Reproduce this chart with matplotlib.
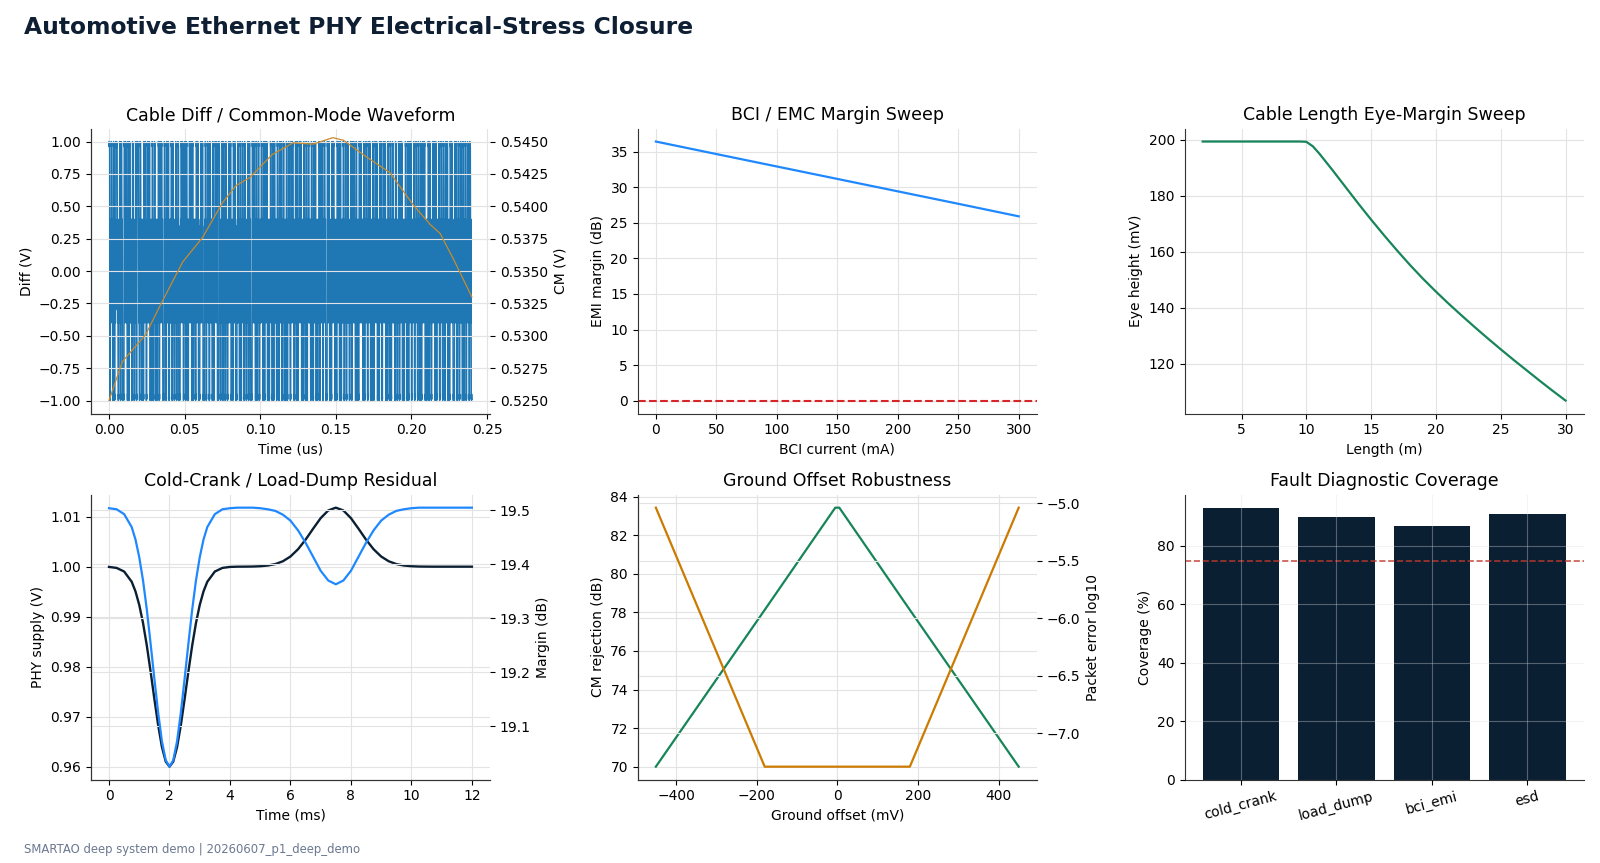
import numpy as np
import matplotlib
matplotlib.use("Agg")
import matplotlib.pyplot as plt

plt.rcParams['font.family'] = ['DejaVu Sans']
plt.rcParams['axes.grid'] = True
plt.rcParams['grid.color'] = '#e3e3e3'
plt.rcParams['grid.linewidth'] = 0.8
plt.rcParams['axes.spines.top'] = False
plt.rcParams['axes.spines.right'] = False
plt.rcParams['axes.edgecolor'] = '#333333'
plt.rcParams['xtick.labelsize'] = 10
plt.rcParams['ytick.labelsize'] = 10
plt.rcParams['axes.labelsize'] = 10
plt.rcParams['axes.titlesize'] = 12.5

NAVY = '#0b1f33'
BLUE = '#1f88ff'
GREEN = '#17855a'
ORANGE = '#cc7a00'

# --- panel 1: cable waveform, PAM3 symbols + per-level sample ripple ---
symbols = (
    "+-0+0-+-0++0-0+-+0--+0+0-+-+00-+0-0+-++0-+0-0-+0+-0+0+-0-+-"
    "0+-0-0+-+0+0--+0-+0+-00+-+0-0+-0+--0+0+-0+-+0-0+0+-+-00-+0+-"
    "-0+0+--0+-0+0-+00-+-0+0+--+0-0+-+0-+0-0+0+-0-+0+--0+0-+-0+0-"
    "+0-0+-+0--+0+0-+-0+-00+0-+-+0+-0-0+0-+-+00-+0-+0+-0+-0-+-0+0"
    "-+0+0-0+-+-0+0+-0-+0-+-0+00-+0-+0+-0-0+-+0+-0+0--+0+-0-+0+0-"
    "0-+0+-+-00+-0+-0+0-0+-+0+0-+-0-+0+00-+-0+0-+0+-0-+-0+0+-0-+0"
    "+-0+0+-0-+0-+-0+00-+0-0+-+0+-0-0+0-+-+0+-00+-0+0-+0-+-0+0+-0"
    "-0+-+0-0+0+-+-00+-0+0-+0-+0+-0-+0+0--+0+-0+-0+0-+-0+-0+0-+0-"
)
level_ripple = {
    '+': [1.0, 0.96, 0.99, 0.95],
    '0': [0.35, -0.4, 0.4, -0.3],
    '-': [-0.97, -1.0, -0.95, -0.99],
}
cm_t = [0.0, 0.0088, 0.0243, 0.0332, 0.0487, 0.0619, 0.0752, 0.084, 0.0929,
        0.108, 0.1217, 0.135, 0.148, 0.155, 0.1704, 0.1858, 0.2013, 0.2124,
        0.219, 0.2279, 0.24]
cm_v = [0.5250, 0.5280, 0.5301, 0.5322, 0.5357, 0.5376, 0.5403, 0.5416, 0.5422,
        0.5440, 0.5449, 0.5448, 0.5453, 0.5451, 0.5438, 0.5426, 0.5401, 0.5386,
        0.5379, 0.5359, 0.5330]

# --- panel 2: BCI sweep ---
bci_ma = [0, 50, 100, 150, 200, 250, 300]
emi_margin = [36.46, 34.7, 32.95, 31.2, 29.45, 27.7, 25.93]

# --- panel 3: cable length sweep ---
cable_len = [2, 4, 6, 8, 9.5, 10, 10.5, 11, 12, 13, 14, 15, 16, 17, 18, 19, 20,
             21, 22, 23, 24, 25, 26, 27, 28, 29, 30]
eye_mv = [199.3, 199.3, 199.3, 199.3, 199.3, 199.2, 197.6, 195.0, 189.2, 183.2,
          177.2, 171.4, 165.8, 160.4, 155.2, 150.3, 145.7, 141.3, 137.1, 133.0,
          129.0, 125.1, 121.3, 117.6, 113.9, 110.3, 106.8]

# --- panel 4: cold crank / load dump ---
crank_t = [0, 0.25, 0.5, 0.75, 0.875, 1.0, 1.125, 1.25, 1.375, 1.5, 1.625, 1.75,
           1.875, 2.0, 2.125, 2.25, 2.375, 2.5, 2.625, 2.75, 2.875, 3.0, 3.125,
           3.25, 3.5, 3.75, 4.0, 4.25, 4.5, 4.75, 5.0, 5.25, 5.5, 5.75, 6.0,
           6.25, 6.5, 6.75, 7.0, 7.25, 7.5, 7.75, 8.0, 8.25, 8.5, 8.75, 9.0,
           9.25, 9.5, 9.75, 10.0, 10.25, 10.5, 10.75, 11.0, 11.5, 12.0]
phy_supply = [0.99995, 0.99975, 0.99903, 0.99698, 0.99506, 0.99234, 0.98872,
              0.98422, 0.97903, 0.97354, 0.96830, 0.96392, 0.96102, 0.96000,
              0.96102, 0.96392, 0.96830, 0.97354, 0.97903, 0.98422, 0.98872,
              0.99234, 0.99506, 0.99698, 0.99903, 0.99975, 0.99995, 1.0,
              1.00001, 1.00003, 1.00009, 1.00023, 1.00052, 1.00108, 1.00203,
              1.00348, 1.00540, 1.00760, 1.00971, 1.01124, 1.01180, 1.01124,
              1.00971, 1.00760, 1.00540, 1.00348, 1.00203, 1.00108, 1.00052,
              1.00023, 1.00009, 1.00003, 1.00001, 1.0, 1.0, 1.0, 1.0]
link_margin = [19.504, 19.502, 19.493, 19.469, 19.446, 19.413, 19.370, 19.316,
               19.253, 19.188, 19.125, 19.072, 19.037, 19.025, 19.037, 19.072,
               19.125, 19.188, 19.253, 19.316, 19.370, 19.413, 19.446, 19.469,
               19.493, 19.502, 19.504, 19.505, 19.505, 19.505, 19.504, 19.502,
               19.499, 19.492, 19.481, 19.463, 19.440, 19.414, 19.388, 19.370,
               19.363, 19.370, 19.388, 19.414, 19.440, 19.463, 19.481, 19.492,
               19.499, 19.502, 19.504, 19.505, 19.505, 19.505, 19.505, 19.505,
               19.505]

# --- panel 5: ground offset ---
gnd_mv = [-450, -180, -5, 5, 180, 450]
cm_rej = [70.0, 78.13, 83.43, 83.43, 78.13, 70.0]
per_log = [-5.04, -7.29, -7.29, -7.29, -7.29, -5.04]

# --- panel 6: coverage ---
faults = ['cold_crank', 'load_dump', 'bci_emi', 'esd']
coverage = [92.9, 89.9, 86.9, 91.1]
coverage_target = 75

fig, axes = plt.subplots(2, 3, figsize=(16, 8.63), dpi=100)
fig.subplots_adjust(left=0.0568, right=0.9898, top=0.851, bottom=0.0966,
                    wspace=0.37, hspace=0.285)

# panel 1
ax = axes[0, 0]
diff_v = [v for s in symbols for v in level_ripple[s]]
t_wave = np.linspace(0, 0.24, len(diff_v))
ax.plot(t_wave, diff_v, color='#1f77b4', lw=1.0)
ax.set_title('Cable Diff / Common-Mode Waveform')
ax.set_xlabel('Time (us)')
ax.set_ylabel('Diff (V)')
ax.set_xticks([0, 0.05, 0.10, 0.15, 0.20, 0.25])
axr = ax.twinx()
axr.plot(cm_t, cm_v, color='#c98a2e', lw=0.9)
axr.set_ylabel('CM (V)')
axr.set_ylim(0.5240, 0.5460)
axr.set_yticks([0.5250, 0.5275, 0.5300, 0.5325, 0.5350, 0.5375, 0.5400,
                0.5425, 0.5450])
axr.set_yticklabels([f'{v:.4f}' for v in axr.get_yticks()])
ax.set_ylim(-1.1, 1.1)

# panel 2
ax = axes[0, 1]
ax.plot(bci_ma, emi_margin, color=BLUE, lw=1.6)
ax.axhline(0, color='#d62728', ls='--', lw=1.5)
ax.set_title('BCI / EMC Margin Sweep')
ax.set_xlabel('BCI current (mA)')
ax.set_ylabel('EMI margin (dB)')

# panel 3
ax = axes[0, 2]
ax.plot(cable_len, eye_mv, color=GREEN, lw=1.6)
ax.set_title('Cable Length Eye-Margin Sweep')
ax.set_xlabel('Length (m)')
ax.set_ylabel('Eye height (mV)')
ax.set_yticks([120, 140, 160, 180, 200])

# panel 4
ax = axes[1, 0]
ax.plot(crank_t, phy_supply, color=NAVY, lw=1.7)
ax.set_title('Cold-Crank / Load-Dump Residual')
ax.set_xlabel('Time (ms)')
ax.set_ylabel('PHY supply (V)')
axr = ax.twinx()
axr.plot(crank_t, link_margin, color=BLUE, lw=1.6)
axr.set_ylabel('Margin (dB)')
axr.set_yticks([19.1, 19.2, 19.3, 19.4, 19.5])

# panel 5
ax = axes[1, 1]
ax.plot(gnd_mv, cm_rej, color=GREEN, lw=1.6)
ax.set_title('Ground Offset Robustness')
ax.set_xlabel('Ground offset (mV)')
ax.set_ylabel('CM rejection (dB)')
axr = ax.twinx()
axr.plot(gnd_mv, per_log, color=ORANGE, lw=1.6)
axr.set_ylabel('Packet error log10')
axr.set_yticks([-7.0, -6.5, -6.0, -5.5, -5.0])

# panel 6
ax = axes[1, 2]
ax.bar(faults, coverage, color=NAVY, width=0.8)
ax.axhline(coverage_target, color='#c0392b', ls='--', lw=1.2, alpha=0.85)
ax.set_axisbelow(False)
ax.grid(True, color='#dddddd', alpha=0.35, lw=0.8)
ax.set_title('Fault Diagnostic Coverage')
ax.set_ylabel('Coverage (%)')
plt.setp(ax.get_xticklabels(), rotation=15)

fig.text(0.0153, 0.968, 'Automotive Ethernet PHY Electrical-Stress Closure',
         fontsize=16.8, fontweight='bold', color='#0f1f33', va='center')
fig.text(0.0153, 0.0162, 'SMARTAO deep system demo | 20260607_p1_deep_demo',
         fontsize=8.4, color='#6b7890', va='center')

fig.savefig('out.png', dpi=100)
